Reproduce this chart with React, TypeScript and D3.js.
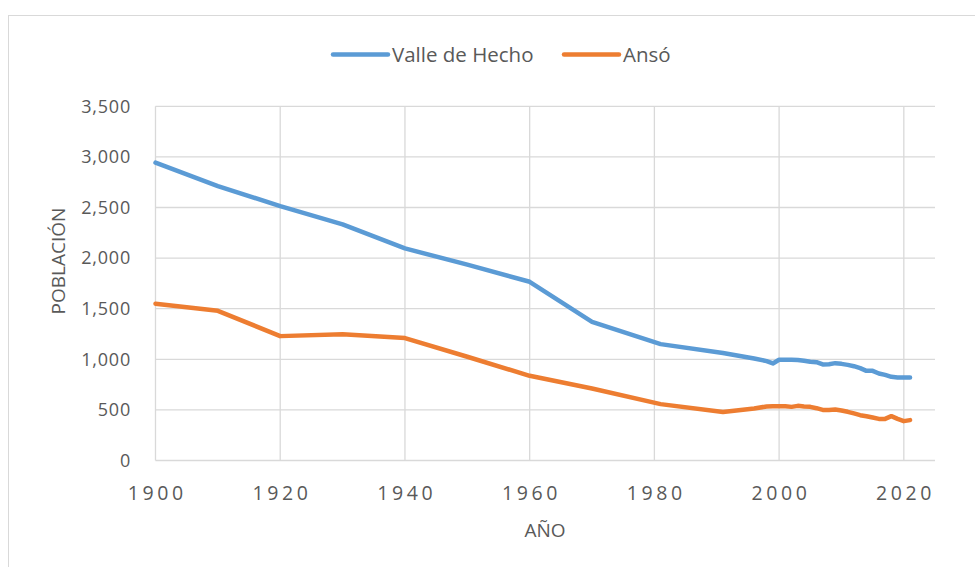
import React from "react";
import * as d3 from "d3";

const years = [1900, 1910, 1920, 1930, 1940, 1950, 1960, 1970, 1981, 1991, 1996, 1998, 1999, 2000, 2001, 2002, 2003, 2004, 2005, 2006, 2007, 2008, 2009, 2010, 2011, 2012, 2013, 2014, 2015, 2016, 2017, 2018, 2019, 2020, 2021];
const valleDeHecho = [2943, 2712, 2514, 2333, 2096, 1935, 1766, 1370, 1150, 1062, 1008, 982, 959, 995, 995, 995, 993, 985, 975, 972, 949, 952, 962, 955, 945, 932, 913, 886, 886, 860, 846, 827, 821, 821, 821];
const anso = [1550, 1479, 1229, 1247, 1210, 1025, 837, 712, 557, 480, 514, 534, 537, 537, 537, 530, 540, 534, 530, 517, 500, 500, 504, 494, 481, 465, 448, 438, 425, 411, 411, 438, 411, 389, 399];
const seriesNames = ["Valle de Hecho", "Ansó"];
const seriesColors = ["#5B9BD5", "#ED7D31"];
const yTicks = [0, 500, 1000, 1500, 2000, 2500, 3000, 3500];
const xTicks = [1900, 1920, 1940, 1960, 1980, 2000, 2020];
const xTitle = "AÑO";
const yTitle = "POBLACIÓN";

const W = 975;
const H = 567;
const FONT = "'Open Sans', 'Noto Sans', sans-serif";

export default function App() {
  const x = d3.scaleLinear().domain([1900, 2025]).range([155.5, 935]);
  const y = d3.scaleLinear().domain([0, 3500]).range([460.5, 106.3]);
  const fmt = d3.format(",");
  const line = d3
    .line<[number, number]>()
    .x((d) => x(d[0]))
    .y((d) => y(d[1]));
  const series = [valleDeHecho, anso].map((vals) => years.map((yr, i) => [yr, vals[i]] as [number, number]));
  const xLS = 3.6;

  return (
    <svg
      width={W}
      height={H}
      style={{ position: "absolute", left: 0, top: 0, background: "#fff" }}
      fontFamily={FONT}
    >
      <rect x={8.5} y={15.5} width={1200} height={800} fill="#fff" stroke="#d9d9d9" strokeWidth={1} />
      {/* gridlines */}
      {yTicks.map((t) => (
        <line key={"gy" + t} x1={x(1900)} x2={x(2025)} y1={y(t)} y2={y(t)} stroke="#d9d9d9" strokeWidth={1.3} />
      ))}
      {xTicks.map((t) => (
        <line key={"gx" + t} x1={x(t)} x2={x(t)} y1={y(0)} y2={y(3500)} stroke="#d9d9d9" strokeWidth={1.3} />
      ))}
      {/* y tick labels */}
      {yTicks.map((t) => (
        <text
          key={"ty" + t}
          x={131}
          y={y(t)}
          dy="0.35em"
          textAnchor="end"
          fontSize={18}
          letterSpacing={0.8}
          fill="#595959"
        >
          {fmt(t)}
        </text>
      ))}
      {/* x tick labels */}
      {xTicks.map((t) => (
        <text
          key={"tx" + t}
          x={x(t) + xLS / 2}
          y={500}
          textAnchor="middle"
          fontSize={19.5}
          letterSpacing={xLS}
          fill="#595959"
        >
          {t}
        </text>
      ))}
      {/* axis titles */}
      <text x={545} y={537} textAnchor="middle" fontSize={19} fill="#595959">
        {xTitle}
      </text>
      <text
        transform={`translate(65, 261) rotate(-90)`}
        textAnchor="middle"
        fontSize={19}
        fill="#595959"
      >
        {yTitle}
      </text>
      {/* lines */}
      {series.map((s, i) => (
        <path
          key={"l" + i}
          d={line(s) || ""}
          fill="none"
          stroke={seriesColors[i]}
          strokeWidth={4.5}
          strokeLinejoin="round"
          strokeLinecap="round"
        />
      ))}
      {/* legend */}
      {seriesNames.map((n, i) => {
        const lx = [333, 564][i];
        return (
          <g key={"lg" + i}>
            <line x1={lx} x2={lx + 55} y1={54.5} y2={54.5} stroke={seriesColors[i]} strokeWidth={4.5} strokeLinecap="round" />
            <text x={lx + 59} y={62} fontSize={20.5} fill="#595959">
              {n}
            </text>
          </g>
        );
      })}
    </svg>
  );
}
